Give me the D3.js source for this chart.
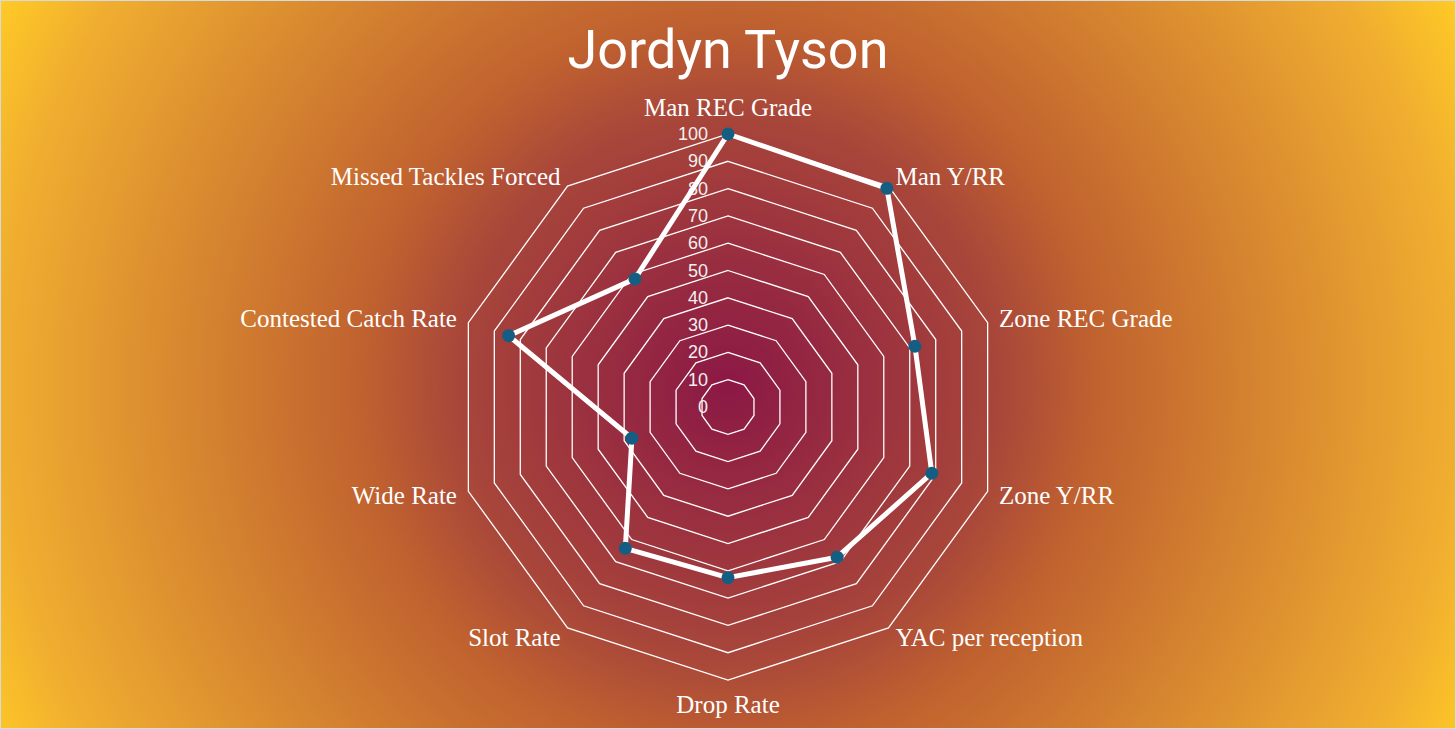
<!DOCTYPE html>
<html>
<head>
<meta charset="utf-8">
<script src="https://cdn.jsdelivr.net/npm/d3@7"></script>
<style>
html,body{margin:0;padding:0;overflow:hidden;background:#fff;}
svg{display:block;}
</style>
</head>
<body>
<svg id="chart" width="1456" height="729"></svg>
<script>
const title = "Jordyn Tyson";
const categories = ["Man REC Grade","Man Y/RR","Zone REC Grade","Zone Y/RR","YAC per reception","Drop Rate","Slot Rate","Wide Rate","Contested Catch Rate","Missed Tackles Forced"];
const values = [100, 99, 72, 78.5, 68, 62.5, 64, 37, 84.5, 58];
const tickValues = [0,10,20,30,40,50,60,70,80,90,100];

const W = 1456, H = 729;
const cx = 728, cy = 407, R = 273;
const svg = d3.select("#chart");

// background
const defs = svg.append("defs");
const grad = defs.append("radialGradient").attr("id","bg")
  .attr("gradientUnits","userSpaceOnUse")
  .attr("cx",728).attr("cy",385).attr("r",820).attr("fx",728).attr("fy",385);
[[0,"#8B1845"],[0.33,"#A8463A"],[0.45,"#C0622F"],[0.89,"#F0AE30"],[1,"#FFC926"]]
  .forEach(([o,c])=>grad.append("stop").attr("offset",o).attr("stop-color",c));
svg.append("rect").attr("x",0.5).attr("y",0.5).attr("width",W-1).attr("height",H-1)
  .attr("fill","url(#bg)").attr("stroke","#d5dbe2").attr("stroke-width",1);

const r = d3.scaleLinear().domain([0,100]).range([0,R]);
const n = categories.length;
const ang = i => i * 2 * Math.PI / n;

// grid rings
const ringLine = d3.lineRadial().angle((d,i)=>ang(i)).radius(d=>r(d)).curve(d3.curveLinearClosed);
const g = svg.append("g").attr("transform",`translate(${cx},${cy})`);
tickValues.filter(t=>t>0).forEach(t=>{
  g.append("path").attr("d", ringLine(categories.map(()=>t)))
    .attr("fill","none").attr("stroke","#ffffff").attr("stroke-width",1.3);
});

// tick labels
g.selectAll("text.tick").data(tickValues).join("text")
  .attr("class","tick")
  .attr("x",-20).attr("y",d=>-r(d))
  .attr("text-anchor","end").attr("dominant-baseline","central")
  .attr("font-family","'Liberation Sans', Arial, sans-serif").attr("font-size",18)
  .attr("fill","#f4f0ee").text(d=>d);

// data line
g.append("path").attr("d", ringLine(values))
  .attr("fill","none").attr("stroke","#ffffff").attr("stroke-width",5).attr("stroke-linejoin","round");

// markers
g.selectAll("circle.pt").data(values).join("circle")
  .attr("class","pt")
  .attr("cx",(d,i)=>r(d)*Math.sin(ang(i)))
  .attr("cy",(d,i)=>-r(d)*Math.cos(ang(i)))
  .attr("r",6.5).attr("fill","#155E83");

// category labels
const LR = R + 12;
g.selectAll("text.cat").data(categories).join("text")
  .attr("class","cat")
  .each(function(d,i){
    const s = Math.sin(ang(i)), c = Math.cos(ang(i));
    const x = LR*s, y = -LR*c;
    const t = d3.select(this);
    let anchor = Math.abs(s)<0.01 ? "middle" : (s>0 ? "start" : "end");
    let yy = y, db = "central";
    if (Math.abs(s)<0.01) {
      if (c>0) { yy = y - 6; db = "auto"; }
      else { yy = y + 21; db = "auto"; }
    }
    t.attr("x",x).attr("y",yy).attr("text-anchor",anchor).attr("dominant-baseline",db);
  })
  .attr("font-family","'Liberation Serif', 'Times New Roman', serif").attr("font-size",25)
  .attr("fill","#ffffff").text(d=>d);

// title
svg.append("text").attr("x",728).attr("y",68).attr("text-anchor","middle")
  .attr("font-family","Roboto, sans-serif").attr("font-size",54)
  .attr("fill","#ffffff").text(title);
</script>
</body>
</html>
